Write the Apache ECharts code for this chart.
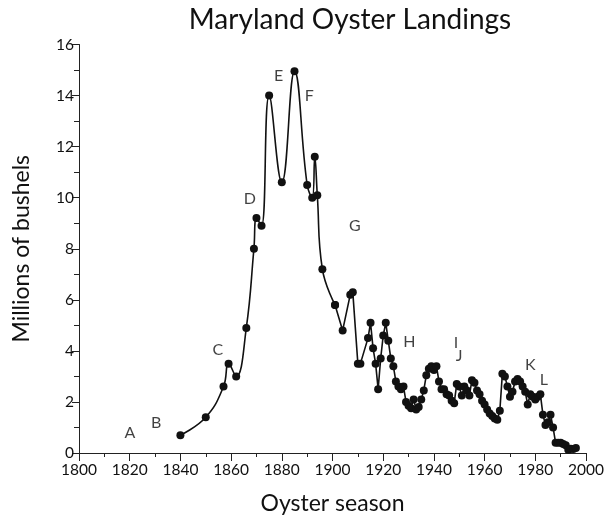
<!DOCTYPE html>
<html>
<head>
<meta charset="utf-8">
<script src="https://cdn.jsdelivr.net/npm/echarts@6/dist/echarts.min.js"></script>
<style>
html,body{margin:0;padding:0;background:#fff;}
#chart{width:607px;height:520px;}
</style>
</head>
<body>
<div id="chart"></div>
<script>
// Early period (smoothed curve)
const earlyYears = [1840, 1850, 1857, 1859, 1862, 1866, 1869, 1870, 1872, 1875, 1880, 1885, 1890, 1892, 1893, 1894, 1896, 1901];
const earlyValues = [0.7, 1.4, 2.6, 3.5, 3.0, 4.9, 8.0, 9.2, 8.9, 14.0, 10.6, 14.95, 10.5, 10.0, 11.6, 10.1, 7.2, 5.8];

// Later period (straight segments)
const lateYears = [1901, 1904, 1907, 1908, 1910, 1911, 1914, 1915, 1916, 1917, 1918, 1919, 1920, 1921, 1922, 1923, 1924, 1925, 1926, 1927, 1928, 1929, 1930, 1931, 1932, 1933, 1934, 1935, 1936, 1937, 1938, 1939, 1940, 1941, 1942, 1943, 1944, 1945, 1946, 1947, 1948, 1949, 1950, 1951, 1952, 1953, 1954, 1955, 1956, 1957, 1958, 1959, 1960, 1961, 1962, 1963, 1964, 1965, 1966, 1967, 1968, 1969, 1970, 1971, 1972, 1973, 1974, 1975, 1976, 1977, 1978, 1979, 1980, 1981, 1982, 1983, 1984, 1985, 1986, 1987, 1988, 1989, 1990, 1991, 1992, 1993, 1994, 1995, 1996];
const lateValues = [5.8, 4.8, 6.2, 6.3, 3.5, 3.5, 4.5, 5.1, 4.1, 3.5, 2.5, 3.7, 4.6, 5.1, 4.4, 3.7, 3.4, 2.8, 2.6, 2.5, 2.6, 2.0, 1.85, 1.75, 2.1, 1.7, 1.8, 2.1, 2.45, 3.05, 3.3, 3.4, 3.25, 3.4, 2.8, 2.5, 2.5, 2.3, 2.25, 2.05, 1.95, 2.7, 2.6, 2.25, 2.6, 2.45, 2.25, 2.85, 2.75, 2.45, 2.3, 2.05, 1.9, 1.7, 1.55, 1.45, 1.35, 1.3, 1.65, 3.1, 3.0, 2.6, 2.2, 2.4, 2.8, 2.9, 2.8, 2.6, 2.4, 1.9, 2.3, 2.2, 2.1, 2.2, 2.3, 1.5, 1.1, 1.2, 1.5, 1.0, 0.4, 0.4, 0.4, 0.35, 0.3, 0.13, 0.17, 0.16, 0.2];

// Annotation letters
const noteLetters = ['A', 'B', 'C', 'D', 'E', 'F', 'G', 'H', 'I', 'J', 'K', 'L'];
const noteYears = [1820.1, 1830.4, 1854.8, 1867.4, 1878.7, 1890.8, 1908.8, 1930.3, 1948.7, 1949.9, 1978.0, 1983.4];
const noteValues = [0.8, 1.2, 4.03, 9.97, 14.78, 14.0, 8.9, 4.34, 4.3, 3.8, 3.44, 2.86];

const yTicks = [0, 2, 4, 6, 8, 10, 12, 14, 16];
const xTicks = [1800, 1820, 1840, 1860, 1880, 1900, 1920, 1940, 1960, 1980, 2000];

const FONT = 'Lato';
const chart = echarts.init(document.getElementById('chart'));
const pair = (xs, ys) => xs.map((x, i) => [x, ys[i]]);

chart.setOption({
  animation: false,
  backgroundColor: '#fff',
  title: {
    text: 'Maryland Oyster Landings',
    left: 345, top: 1, textAlign: 'center',
    textStyle: {fontFamily: FONT, fontSize: 28, fontWeight: 'normal', color: '#111'}
  },
  grid: {left: 79, right: 16.7, top: 44.5, bottom: 62.7},
  xAxis: {
    type: 'value', min: xTicks[0], max: xTicks[xTicks.length - 1], interval: 20,
    name: 'Oyster season', nameLocation: 'middle', nameGap: 39,
    nameTextStyle: {fontFamily: FONT, fontSize: 23, color: '#111'},
    axisLine: {lineStyle: {color: '#222', width: 1}},
    axisTick: {inside: false, length: 8, lineStyle: {color: '#222'}},
    minorTick: {show: true, splitNumber: 2, length: 4, lineStyle: {color: '#222'}},
    splitLine: {show: false},
    axisLabel: {fontFamily: FONT, fontSize: 15.5, color: '#111', margin: 9,
      formatter: v => String(v)}
  },
  yAxis: {
    type: 'value', min: yTicks[0], max: yTicks[yTicks.length - 1], interval: 2,
    name: 'Millions of bushels', nameLocation: 'middle', nameGap: 46, nameRotate: 90,
    nameTextStyle: {fontFamily: FONT, fontSize: 23, color: '#111'},
    axisLine: {show: true, lineStyle: {color: '#222', width: 1}},
    axisTick: {show: true, inside: false, length: 7, lineStyle: {color: '#222'}},
    minorTick: {show: true, splitNumber: 2, length: 5, lineStyle: {color: '#222'}},
    splitLine: {show: false},
    axisLabel: {fontFamily: FONT, fontSize: 15.5, color: '#111', margin: 5}
  },
  series: [
    {
      type: 'line', data: pair(earlyYears, earlyValues), smooth: 0.45,
      symbol: 'circle', symbolSize: 8,
      itemStyle: {color: '#111'}, lineStyle: {color: '#111', width: 1.6}
    },
    {
      type: 'line', data: pair(lateYears, lateValues), smooth: false,
      symbol: 'circle', symbolSize: 8,
      itemStyle: {color: '#111'}, lineStyle: {color: '#111', width: 1.6}
    },
    {
      type: 'scatter', data: noteYears.map((x, i) => ({value: [x, noteValues[i]], name: noteLetters[i]})),
      symbolSize: 0, silent: true,
      label: {show: true, position: 'inside', formatter: p => p.name,
        fontFamily: FONT, fontSize: 16, color: '#111'}
    }
  ]
});
</script>
</body>
</html>
